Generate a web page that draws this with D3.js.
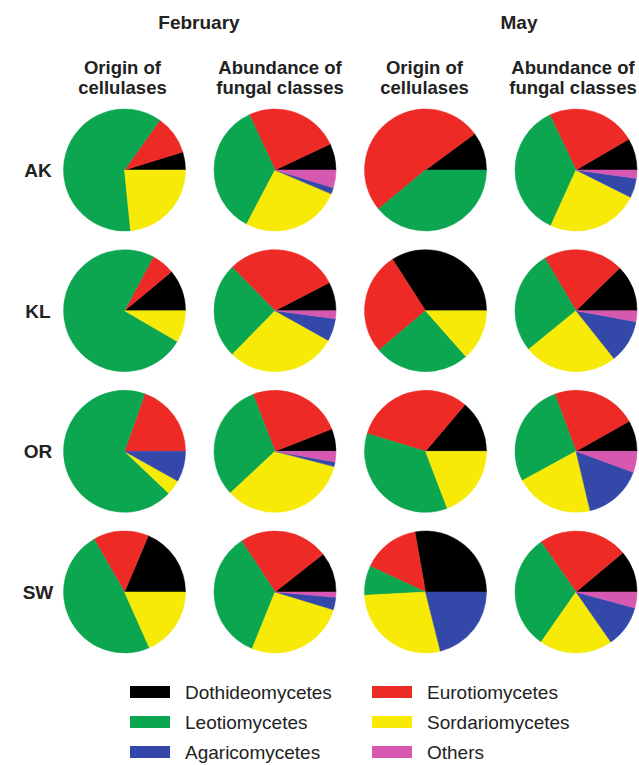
<!DOCTYPE html>
<html>
<head>
<meta charset="utf-8">
<script src="https://cdn.jsdelivr.net/npm/d3@7"></script>
<style>
  html, body { margin: 0; padding: 0; background: #fff; }
  svg { display: block; font-family: "Liberation Sans", Arial, sans-serif; }
</style>
</head>
<body>
<svg id="chart" width="639" height="765"></svg>
<script>
// ---- data (percentages) ----
const sites = ["AK", "KL", "OR", "SW"];
const months = ["February", "May"];
const panels = ["Feb-origin", "Feb-abundance", "May-origin", "May-abundance"];
const panelTitles = [["Origin of", "cellulases"], ["Abundance of", "fungal classes"],
                     ["Origin of", "cellulases"], ["Abundance of", "fungal classes"]];
const classes = ["Dothideomycetes", "Eurotiomycetes", "Leotiomycetes", "Sordariomycetes", "Agaricomycetes", "Others"];
const classColors = ["#000000", "#ed2a26", "#0ca650", "#f6ea06", "#3448aa", "#d658b0"];

// values ordered: AK(F-orig, F-abund, M-orig, M-abund), KL(...), OR(...), SW(...)
const dothideomycetes = [4.8, 7.0, 10.1, 8.4,   11.0, 7.6, 34.1, 12.3,   0.0, 6.0, 13.8, 8.2,   18.6, 10.6, 27.8, 11.1];
const eurotiomycetes  = [10.4, 24.9, 50.9, 23.7, 6.2, 29.8, 27.1, 21.2,  19.6, 24.9, 31.5, 22.5, 14.7, 23.6, 15.3, 23.6];
const leotiomycetes   = [61.4, 35.4, 39.0, 36.2, 74.4, 25.3, 25.3, 27.4, 68.3, 31.1, 35.5, 27.3, 48.3, 34.7, 7.8, 30.6];
const sordariomycetes = [23.4, 26.3, 0.0, 24.4,  8.4, 29.2, 13.5, 24.8,  4.0, 34.1, 19.2, 20.8,  18.3, 26.4, 28.1, 19.4];
const agaricomycetes  = [0.0, 1.7, 0.0, 5.2,     0.0, 6.0, 0.0, 11.4,    8.1, 1.2, 0.0, 15.7,    0.0, 3.3, 21.1, 11.1];
const others          = [0.0, 4.7, 0.0, 2.2,     0.0, 2.1, 0.0, 2.9,     0.0, 2.8, 0.0, 5.6,     0.0, 1.4, 0.0, 4.2];

const series = [dothideomycetes, eurotiomycetes, leotiomycetes, sordariomycetes, agaricomycetes, others];

// ---- layout ----
const svg = d3.select("#chart");
const x = d3.scalePoint().domain(panels).range([124.5, 576]);
const y = d3.scalePoint().domain(sites).range([170, 592]);
const R = 61;

// month headers
const monthX = [199, 519];
svg.selectAll("text.month").data(months).join("text")
  .attr("class", "month")
  .attr("x", (d, i) => monthX[i]).attr("y", 29)
  .attr("text-anchor", "middle")
  .attr("font-size", 19).attr("font-weight", "bold").attr("fill", "#222")
  .text(d => d);

// panel titles
const titleDx = [-2, 5, -1, -3];
panels.forEach((p, i) => {
  const t = svg.append("text")
    .attr("text-anchor", "middle")
    .attr("font-size", 18.5).attr("font-weight", "bold").attr("fill", "#222");
  panelTitles[i].forEach((line, j) => {
    t.append("tspan").attr("x", x(p) + titleDx[i]).attr("y", 74 + j * 20).text(line);
  });
});

// row labels
svg.selectAll("text.site").data(sites).join("text")
  .attr("class", "site")
  .attr("x", 38).attr("y", d => y(d) + 7)
  .attr("text-anchor", "middle")
  .attr("font-size", 19).attr("font-weight", "bold").attr("fill", "#222")
  .text(d => d);

// pies: start at 3 o'clock, Dothideomycetes first, going counter-clockwise
const pie = d3.pie().sort(null).value(d => d.v)
  .startAngle(Math.PI / 2).endAngle(Math.PI / 2 - 2 * Math.PI);
const arc = d3.arc().innerRadius(0).outerRadius(R);

sites.forEach((s, si) => {
  panels.forEach((p, pi) => {
    const idx = si * 4 + pi;
    const data = classes.map((c, ci) => ({ c: ci, v: series[ci][idx] }));
    const g = svg.append("g").attr("transform", `translate(${x(p)},${y(s)})`);
    g.selectAll("path").data(pie(data).filter(d => d.data.v > 0)).join("path")
      .attr("d", arc)
      .attr("fill", d => classColors[d.data.c])
      .attr("stroke", d => classColors[d.data.c])
      .attr("stroke-width", 0.5);
  });
});

// legend
const legendPos = [[130, 692], [372, 692], [130, 722], [372, 722], [130, 752], [372, 752]];
const legendOrder = [0, 1, 2, 3, 4, 5];
const lg = svg.selectAll("g.leg").data(legendOrder).join("g")
  .attr("class", "leg")
  .attr("transform", (d, i) => `translate(${legendPos[i][0]},${legendPos[i][1]})`);
lg.append("rect").attr("x", 0).attr("y", -6).attr("width", 40).attr("height", 12)
  .attr("fill", d => classColors[d]);
lg.append("text").attr("x", 55).attr("y", 7)
  .attr("font-size", 19).attr("fill", "#222")
  .text(d => classes[d]);
</script>
</body>
</html>
